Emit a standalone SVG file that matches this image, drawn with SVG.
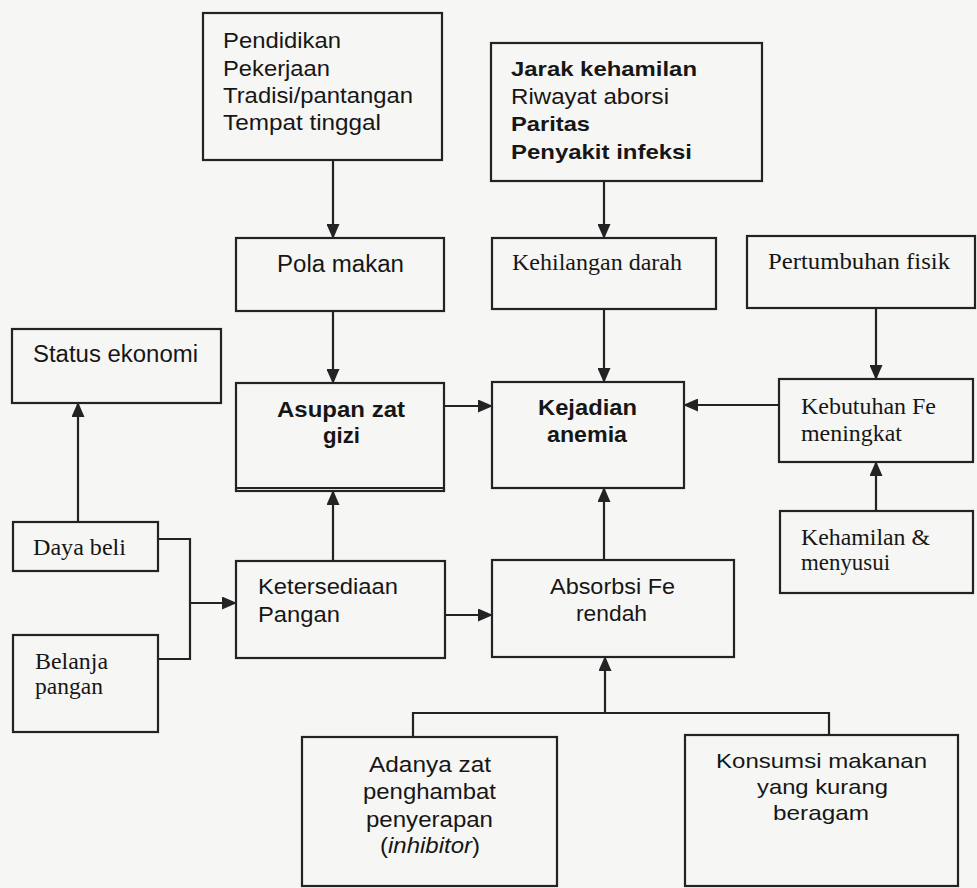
<svg xmlns="http://www.w3.org/2000/svg" width="977" height="888" viewBox="0 0 977 888">
<style>
.bx{fill:none;stroke:#232323;stroke-width:2.2}
.cn{fill:none;stroke:#232323;stroke-width:2.2}
.s{font-family:"Liberation Sans",Arial,sans-serif;fill:#161616}
.b{font-family:"Liberation Sans",Arial,sans-serif;font-weight:bold;fill:#161616}
.r{font-family:"Liberation Serif","Times New Roman",serif;fill:#161616}
</style>
<defs>
<marker id="ah" markerUnits="userSpaceOnUse" markerWidth="15" markerHeight="13" refX="14" refY="6.5" orient="auto">
<path d="M0,0 L15,6.5 L0,13 Z" fill="#232323"/>
</marker>
</defs>
<rect width="977" height="888" fill="#f6f6f4"/>

<g id="connectors">
<line class="cn" x1="333" y1="160" x2="333" y2="238" marker-end="url(#ah)"/>
<line class="cn" x1="604" y1="181" x2="604" y2="238" marker-end="url(#ah)"/>
<line class="cn" x1="333" y1="311" x2="333" y2="383" marker-end="url(#ah)"/>
<line class="cn" x1="604" y1="309" x2="604" y2="382" marker-end="url(#ah)"/>
<line class="cn" x1="876" y1="308" x2="876" y2="379" marker-end="url(#ah)"/>
<line class="cn" x1="444" y1="406" x2="492" y2="406" marker-end="url(#ah)"/>
<line class="cn" x1="779" y1="405" x2="684" y2="405" marker-end="url(#ah)"/>
<line class="cn" x1="876" y1="511" x2="876" y2="462" marker-end="url(#ah)"/>
<line class="cn" x1="78" y1="522" x2="78" y2="403" marker-end="url(#ah)"/>
<polyline class="cn" points="158,539 190,539 190,659 158,659"/>
<line class="cn" x1="190" y1="603" x2="236" y2="603" marker-end="url(#ah)"/>
<line class="cn" x1="333" y1="561" x2="333" y2="491" marker-end="url(#ah)"/>
<line class="cn" x1="445" y1="615" x2="492" y2="615" marker-end="url(#ah)"/>
<line class="cn" x1="604" y1="560" x2="604" y2="488" marker-end="url(#ah)"/>
<line class="cn" x1="605" y1="713" x2="605" y2="657" marker-end="url(#ah)"/>
<polyline class="cn" points="413,737 413,713 829,713 829,735"/>
</g>

<g id="n-faktor-sosial">
<rect class="bx" x="203" y="13" width="239" height="147"/>
<text class="s" font-size="22" x="223" y="48" textLength="118" lengthAdjust="spacingAndGlyphs">Pendidikan</text>
<text class="s" font-size="22" x="223" y="76" textLength="107" lengthAdjust="spacingAndGlyphs">Pekerjaan</text>
<text class="s" font-size="22" x="223" y="103" textLength="190" lengthAdjust="spacingAndGlyphs">Tradisi/pantangan</text>
<text class="s" font-size="22" x="223" y="130" textLength="158" lengthAdjust="spacingAndGlyphs">Tempat tinggal</text>
</g>

<g id="n-faktor-reproduksi">
<rect class="bx" x="491" y="43" width="271" height="138"/>
<text class="b" font-size="21" x="511" y="76" textLength="186" lengthAdjust="spacingAndGlyphs">Jarak kehamilan</text>
<text class="s" font-size="22" x="511" y="104" textLength="158" lengthAdjust="spacingAndGlyphs">Riwayat aborsi</text>
<text class="b" font-size="21" x="511" y="131" textLength="79" lengthAdjust="spacingAndGlyphs">Paritas</text>
<text class="b" font-size="21" x="511" y="159" textLength="181" lengthAdjust="spacingAndGlyphs">Penyakit infeksi</text>
</g>

<g id="n-pola-makan">
<rect class="bx" x="236" y="238" width="208" height="73"/>
<text class="s" font-size="23" x="277" y="272" textLength="127" lengthAdjust="spacingAndGlyphs">Pola makan</text>
</g>

<g id="n-kehilangan-darah">
<rect class="bx" x="492" y="238" width="224" height="71"/>
<text class="r" font-size="24" x="512" y="270" textLength="170" lengthAdjust="spacingAndGlyphs">Kehilangan darah</text>
</g>

<g id="n-pertumbuhan-fisik">
<rect class="bx" x="747" y="236" width="228" height="72"/>
<text class="r" font-size="24" x="768" y="269" textLength="182" lengthAdjust="spacingAndGlyphs">Pertumbuhan fisik</text>
</g>

<g id="n-status-ekonomi">
<rect class="bx" x="12" y="329" width="209" height="74"/>
<text class="s" font-size="23" x="33" y="362" textLength="165" lengthAdjust="spacingAndGlyphs">Status ekonomi</text>
</g>

<g id="n-asupan-zat-gizi">
<rect class="bx" x="236" y="383" width="208" height="108"/>
<line class="bx" x1="236" y1="488" x2="444" y2="488" stroke-width="1.4"/>
<text class="b" font-size="22" x="277" y="417" textLength="128" lengthAdjust="spacingAndGlyphs">Asupan zat</text>
<text class="b" font-size="22" x="323" y="443" textLength="37" lengthAdjust="spacingAndGlyphs">gizi</text>
</g>

<g id="n-kejadian-anemia">
<rect class="bx" x="492" y="382" width="192" height="106"/>
<text class="b" font-size="22" x="538" y="415" textLength="99" lengthAdjust="spacingAndGlyphs">Kejadian</text>
<text class="b" font-size="22" x="547" y="442" textLength="80" lengthAdjust="spacingAndGlyphs">anemia</text>
</g>

<g id="n-kebutuhan-fe">
<rect class="bx" x="779" y="379" width="194" height="83"/>
<text class="r" font-size="24" x="801" y="414" textLength="135" lengthAdjust="spacingAndGlyphs">Kebutuhan Fe</text>
<text class="r" font-size="24" x="801" y="441" textLength="101" lengthAdjust="spacingAndGlyphs">meningkat</text>
</g>

<g id="n-kehamilan-menyusui">
<rect class="bx" x="780" y="511" width="193" height="82"/>
<text class="r" font-size="23" x="801" y="545" textLength="129" lengthAdjust="spacingAndGlyphs">Kehamilan &amp;</text>
<text class="r" font-size="23" x="801" y="570" textLength="89" lengthAdjust="spacingAndGlyphs">menyusui</text>
</g>

<g id="n-daya-beli">
<rect class="bx" x="13" y="522" width="145" height="49"/>
<text class="r" font-size="23" x="33" y="555" textLength="93" lengthAdjust="spacingAndGlyphs">Daya beli</text>
</g>

<g id="n-belanja-pangan">
<rect class="bx" x="13" y="635" width="145" height="97"/>
<text class="r" font-size="23" x="35" y="669" textLength="73" lengthAdjust="spacingAndGlyphs">Belanja</text>
<text class="r" font-size="23" x="35" y="694" textLength="68" lengthAdjust="spacingAndGlyphs">pangan</text>
</g>

<g id="n-ketersediaan-pangan">
<rect class="bx" x="236" y="561" width="209" height="97"/>
<text class="s" font-size="22" x="258" y="594" textLength="140" lengthAdjust="spacingAndGlyphs">Ketersediaan</text>
<text class="s" font-size="22" x="258" y="622" textLength="82" lengthAdjust="spacingAndGlyphs">Pangan</text>
</g>

<g id="n-absorbsi-fe">
<rect class="bx" x="492" y="560" width="242" height="97"/>
<text class="s" font-size="22" x="550" y="594" textLength="125" lengthAdjust="spacingAndGlyphs">Absorbsi Fe</text>
<text class="s" font-size="22" x="576" y="621" textLength="71" lengthAdjust="spacingAndGlyphs">rendah</text>
</g>

<g id="n-inhibitor">
<rect class="bx" x="302" y="737" width="255" height="149"/>
<text class="s" font-size="22" x="369" y="772" textLength="122" lengthAdjust="spacingAndGlyphs">Adanya zat</text>
<text class="s" font-size="22" x="363" y="799" textLength="133" lengthAdjust="spacingAndGlyphs">penghambat</text>
<text class="s" font-size="22" x="366" y="827" textLength="127" lengthAdjust="spacingAndGlyphs">penyerapan</text>
<text class="s" font-size="22" x="380" y="853" textLength="100" lengthAdjust="spacingAndGlyphs">(<tspan font-style="italic">inhibitor</tspan>)</text>
</g>

<g id="n-konsumsi">
<rect class="bx" x="685" y="735" width="273" height="151"/>
<text class="s" font-size="21" x="716" y="768" textLength="211" lengthAdjust="spacingAndGlyphs">Konsumsi makanan</text>
<text class="s" font-size="21" x="757" y="794" textLength="131" lengthAdjust="spacingAndGlyphs">yang kurang</text>
<text class="s" font-size="21" x="773" y="820" textLength="96" lengthAdjust="spacingAndGlyphs">beragam</text>
</g>
</svg>
